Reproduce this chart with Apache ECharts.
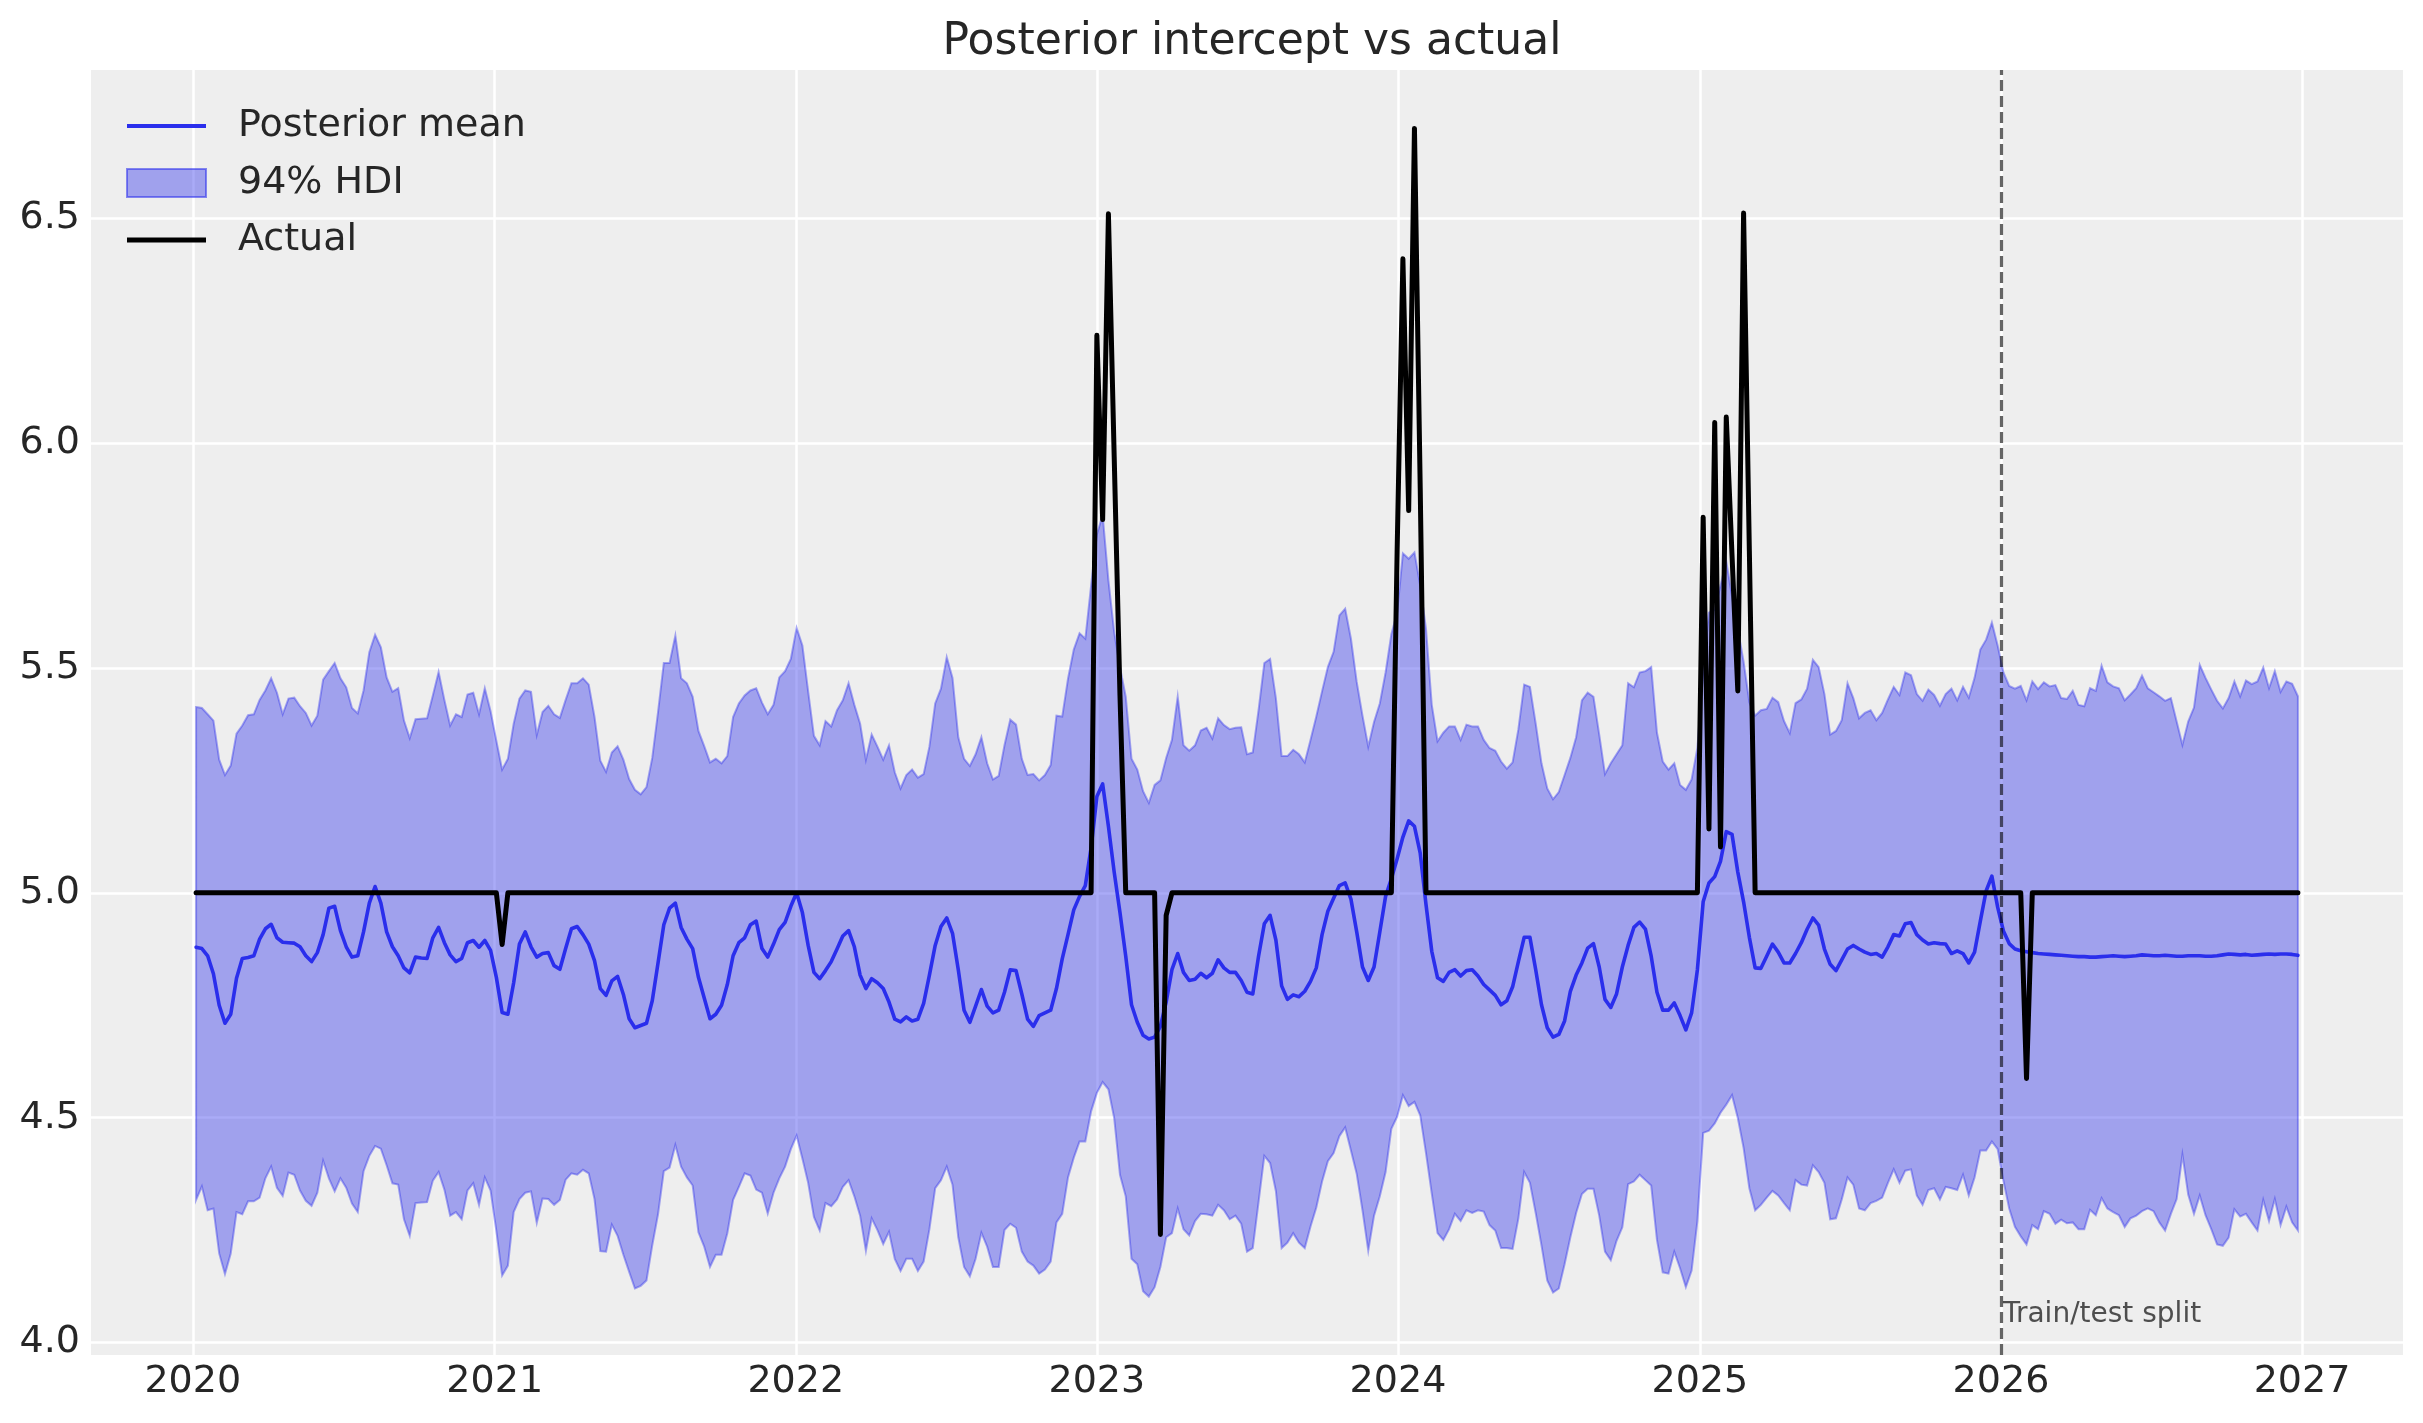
<!DOCTYPE html>
<html>
<head>
<meta charset="utf-8">
<title>Posterior intercept vs actual</title>
<script src="https://cdn.jsdelivr.net/npm/echarts@6/dist/echarts.min.js"></script>
<style>
  html, body { margin: 0; padding: 0; background: #ffffff; }
  #chart { width: 2423px; height: 1423px; }
</style>
</head>
<body>
<div id="chart"></div>
<script>
// weekly series (W-SUN), first week 2020-01-05
const firstWeek = Date.UTC(2020, 0, 5);
const splitDate = Date.UTC(2026, 0, 1);
const xTickYears = [2020, 2021, 2022, 2023, 2024, 2025, 2026, 2027];
const yTicks = [4.0, 4.5, 5.0, 5.5, 6.0, 6.5];

const posteriorMean = [
  4.879, 4.876, 4.86, 4.82, 4.75, 4.71, 4.73, 4.81, 4.854, 4.856,
  4.86, 4.897, 4.92, 4.93, 4.90, 4.89, 4.889, 4.888, 4.88, 4.86,
  4.847, 4.867, 4.907, 4.966, 4.97, 4.916, 4.88, 4.857, 4.86, 4.913,
  4.977, 5.014, 4.977, 4.913, 4.88, 4.86, 4.833, 4.822, 4.857, 4.855,
  4.854, 4.90, 4.923, 4.889, 4.862, 4.847, 4.854, 4.889, 4.894, 4.879,
  4.894, 4.872, 4.812, 4.734, 4.73, 4.80, 4.886, 4.913, 4.88, 4.857,
  4.865, 4.867, 4.838, 4.83, 4.876, 4.92, 4.925, 4.907, 4.886, 4.849,
  4.787, 4.772, 4.804, 4.814, 4.774, 4.72, 4.70, 4.705, 4.71, 4.76,
  4.844, 4.929, 4.966, 4.977, 4.923, 4.897, 4.876, 4.812, 4.766, 4.72,
  4.73, 4.75, 4.796, 4.86, 4.889, 4.90, 4.929, 4.937, 4.876, 4.857,
  4.886, 4.918, 4.934, 4.97, 5.0, 4.956, 4.883, 4.823, 4.809, 4.827,
  4.847, 4.875, 4.904, 4.916, 4.88, 4.817, 4.787, 4.809, 4.80, 4.787,
  4.757, 4.719, 4.713, 4.724, 4.715, 4.719, 4.754, 4.817, 4.883, 4.925,
  4.944, 4.91, 4.829, 4.739, 4.712, 4.748, 4.785, 4.748, 4.733, 4.739,
  4.779, 4.829, 4.827, 4.775, 4.719, 4.703, 4.727, 4.733, 4.739, 4.787,
  4.853, 4.907, 4.962, 4.992, 5.016, 5.10, 5.214, 5.242, 5.148, 5.046,
  4.956, 4.859, 4.751, 4.712, 4.683, 4.675, 4.679, 4.703, 4.757, 4.829,
  4.865, 4.823, 4.805, 4.808, 4.821, 4.811, 4.821, 4.851, 4.833, 4.823,
  4.823, 4.805, 4.779, 4.775, 4.859, 4.931, 4.95, 4.895, 4.793, 4.763,
  4.773, 4.769, 4.781, 4.803, 4.833, 4.907, 4.959, 4.988, 5.016, 5.022,
  4.986, 4.913, 4.835, 4.805, 4.835, 4.913, 4.992, 5.031, 5.076, 5.124,
  5.16, 5.148, 5.088, 4.974, 4.87, 4.811, 4.803, 4.823, 4.829, 4.815,
  4.827, 4.829, 4.815, 4.796, 4.784, 4.772, 4.751, 4.76, 4.791, 4.847,
  4.901, 4.901, 4.829, 4.751, 4.70, 4.679, 4.685, 4.715, 4.781, 4.817,
  4.844, 4.877, 4.887, 4.835, 4.763, 4.745, 4.775, 4.835, 4.883, 4.923,
  4.935, 4.919, 4.859, 4.779, 4.739, 4.739, 4.755, 4.727, 4.695, 4.733,
  4.829, 4.98, 5.022, 5.036, 5.07, 5.136, 5.13, 5.046, 4.98, 4.901,
  4.833, 4.832, 4.859, 4.886, 4.868, 4.844, 4.844, 4.865, 4.889, 4.919,
  4.944, 4.928, 4.875, 4.841, 4.827, 4.851, 4.875, 4.883, 4.875, 4.868,
  4.863, 4.865, 4.857, 4.88, 4.907, 4.904, 4.931, 4.934, 4.907, 4.895,
  4.886, 4.889, 4.887, 4.886, 4.865, 4.871, 4.865, 4.844, 4.868, 4.937,
  5.004, 5.037, 4.968, 4.915, 4.887, 4.875, 4.871, 4.869, 4.867, 4.865,
  4.864, 4.863, 4.862, 4.861, 4.860, 4.859, 4.858, 4.858, 4.857, 4.857,
  4.858, 4.859, 4.860, 4.859, 4.858, 4.859, 4.860, 4.862, 4.861, 4.860,
  4.860, 4.861, 4.860, 4.859, 4.859, 4.860, 4.860, 4.860, 4.859, 4.859,
  4.860, 4.862, 4.864, 4.863, 4.862, 4.863, 4.861, 4.862, 4.863, 4.864,
  4.863, 4.864, 4.864, 4.863, 4.861
];

const hdiHigh = [
  5.413, 5.411, 5.397, 5.383, 5.296, 5.262, 5.283, 5.354, 5.372, 5.395,
  5.397, 5.429, 5.45, 5.477, 5.445, 5.397, 5.432, 5.434, 5.415, 5.40,
  5.372, 5.394, 5.474, 5.493, 5.511, 5.477, 5.457, 5.411, 5.399, 5.45,
  5.535, 5.574, 5.546, 5.479, 5.447, 5.455, 5.383, 5.344, 5.386, 5.387,
  5.388, 5.439, 5.491, 5.429, 5.372, 5.397, 5.391, 5.441, 5.445, 5.397,
  5.455, 5.404, 5.338, 5.274, 5.298, 5.376, 5.432, 5.45, 5.447, 5.351,
  5.402, 5.416, 5.397, 5.389, 5.429, 5.466, 5.466, 5.477, 5.463, 5.391,
  5.294, 5.269, 5.312, 5.326, 5.296, 5.253, 5.229, 5.219, 5.235, 5.30,
  5.402, 5.511, 5.511, 5.572, 5.477, 5.466, 5.436, 5.36, 5.326, 5.29,
  5.298, 5.288, 5.304, 5.391, 5.421, 5.439, 5.45, 5.455, 5.423, 5.397,
  5.418, 5.479, 5.493, 5.52, 5.589, 5.55, 5.448, 5.349, 5.328, 5.382,
  5.37, 5.406, 5.428, 5.466, 5.418, 5.376, 5.296, 5.352, 5.325, 5.296,
  5.328, 5.268, 5.232, 5.262, 5.274, 5.256, 5.264, 5.325, 5.421, 5.454,
  5.524, 5.478, 5.346, 5.298, 5.282, 5.308, 5.346, 5.288, 5.252, 5.26,
  5.328, 5.385, 5.374, 5.298, 5.262, 5.264, 5.25, 5.262, 5.284, 5.394,
  5.392, 5.476, 5.541, 5.577, 5.565, 5.683, 5.797, 5.84, 5.695, 5.58,
  5.502, 5.436, 5.298, 5.274, 5.226, 5.20, 5.24, 5.25, 5.30, 5.34,
  5.436, 5.328, 5.316, 5.328, 5.361, 5.367, 5.343, 5.388, 5.373, 5.364,
  5.367, 5.368, 5.308, 5.312, 5.406, 5.511, 5.52, 5.433, 5.304, 5.304,
  5.318, 5.308, 5.29, 5.34, 5.392, 5.448, 5.502, 5.536, 5.617, 5.632,
  5.565, 5.469, 5.394, 5.325, 5.38, 5.421, 5.49, 5.575, 5.623, 5.755,
  5.743, 5.757, 5.683, 5.587, 5.418, 5.337, 5.356, 5.37, 5.37, 5.34,
  5.374, 5.37, 5.37, 5.34, 5.322, 5.316, 5.292, 5.276, 5.29, 5.364,
  5.463, 5.458, 5.376, 5.288, 5.232, 5.208, 5.224, 5.262, 5.30, 5.346,
  5.428, 5.445, 5.436, 5.352, 5.264, 5.288, 5.308, 5.328, 5.466, 5.457,
  5.49, 5.493, 5.502, 5.356, 5.292, 5.274, 5.288, 5.24, 5.229, 5.252,
  5.322, 5.49, 5.623, 5.63, 5.683, 5.737, 5.659, 5.587, 5.514, 5.424,
  5.394, 5.406, 5.409, 5.434, 5.424, 5.382, 5.355, 5.422, 5.43, 5.454,
  5.518, 5.502, 5.442, 5.352, 5.36, 5.384, 5.466, 5.433, 5.388, 5.40,
  5.406, 5.384, 5.40, 5.43, 5.458, 5.44, 5.49, 5.484, 5.442, 5.427,
  5.452, 5.44, 5.416, 5.442, 5.454, 5.428, 5.458, 5.434, 5.478, 5.541,
  5.563, 5.601, 5.55, 5.49, 5.46, 5.454, 5.46, 5.428, 5.47, 5.453,
  5.468, 5.459, 5.462, 5.433, 5.431, 5.449, 5.418, 5.415, 5.455, 5.449,
  5.505, 5.468, 5.459, 5.455, 5.428, 5.441, 5.455, 5.483, 5.455, 5.446,
  5.437, 5.427, 5.433, 5.381, 5.329, 5.381, 5.412, 5.507, 5.478, 5.452,
  5.427, 5.41, 5.433, 5.47, 5.437, 5.472, 5.464, 5.47, 5.501, 5.455,
  5.493, 5.447, 5.47, 5.465, 5.437
];

const hdiLow = [
  4.317, 4.347, 4.294, 4.298, 4.198, 4.152, 4.198, 4.29, 4.285, 4.314,
  4.314, 4.322, 4.365, 4.391, 4.344, 4.326, 4.378, 4.373, 4.338, 4.315,
  4.304, 4.333, 4.404, 4.365, 4.336, 4.365, 4.344, 4.309, 4.29, 4.381,
  4.415, 4.437, 4.431, 4.394, 4.354, 4.351, 4.274, 4.237, 4.31, 4.311,
  4.312, 4.36, 4.379, 4.34, 4.282, 4.29, 4.274, 4.338, 4.354, 4.306,
  4.367, 4.338, 4.248, 4.149, 4.171, 4.29, 4.319, 4.333, 4.336, 4.266,
  4.32, 4.319, 4.306, 4.317, 4.362, 4.376, 4.373, 4.384, 4.376, 4.319,
  4.203, 4.202, 4.262, 4.237, 4.195, 4.157, 4.12, 4.126, 4.138, 4.216,
  4.285, 4.381, 4.389, 4.439, 4.391, 4.367, 4.349, 4.245, 4.213, 4.168,
  4.195, 4.195, 4.243, 4.317, 4.346, 4.376, 4.371, 4.34, 4.333, 4.287,
  4.333, 4.365, 4.391, 4.43, 4.46, 4.409, 4.355, 4.279, 4.249, 4.31,
  4.303, 4.318, 4.346, 4.361, 4.325, 4.282, 4.204, 4.276, 4.25, 4.219,
  4.246, 4.186, 4.159, 4.186, 4.186, 4.159, 4.18, 4.252, 4.343, 4.361,
  4.391, 4.351, 4.234, 4.168, 4.147, 4.186, 4.244, 4.213, 4.168, 4.168,
  4.25, 4.264, 4.255, 4.202, 4.18, 4.171, 4.153, 4.162, 4.18, 4.267,
  4.286, 4.367, 4.411, 4.447, 4.447, 4.514, 4.555, 4.579, 4.563, 4.499,
  4.373, 4.325, 4.186, 4.174, 4.114, 4.102, 4.123, 4.168, 4.234, 4.243,
  4.298, 4.252, 4.238, 4.27, 4.286, 4.285, 4.282, 4.306, 4.294, 4.274,
  4.282, 4.264, 4.202, 4.21, 4.312, 4.415, 4.399, 4.337, 4.21, 4.222,
  4.243, 4.222, 4.21, 4.258, 4.30, 4.358, 4.403, 4.421, 4.459, 4.478,
  4.427, 4.375, 4.294, 4.204, 4.282, 4.325, 4.379, 4.475, 4.502, 4.55,
  4.526, 4.535, 4.505, 4.421, 4.331, 4.243, 4.228, 4.252, 4.286, 4.27,
  4.294, 4.288, 4.294, 4.291, 4.261, 4.249, 4.21, 4.21, 4.208, 4.276,
  4.379, 4.355, 4.288, 4.216, 4.138, 4.111, 4.12, 4.174, 4.234, 4.288,
  4.33, 4.342, 4.342, 4.282, 4.202, 4.183, 4.226, 4.256, 4.352, 4.358,
  4.373, 4.361, 4.349, 4.228, 4.156, 4.153, 4.202, 4.165, 4.123, 4.16,
  4.27, 4.466, 4.471, 4.487, 4.511, 4.529, 4.55, 4.499, 4.433, 4.343,
  4.294, 4.306, 4.322, 4.337, 4.327, 4.31, 4.294, 4.361, 4.351, 4.349,
  4.394, 4.379, 4.355, 4.274, 4.276, 4.318, 4.367, 4.351, 4.298, 4.294,
  4.31, 4.315, 4.322, 4.355, 4.385, 4.355, 4.382, 4.385, 4.327, 4.306,
  4.339, 4.343, 4.318, 4.346, 4.343, 4.339, 4.373, 4.327, 4.367, 4.427,
  4.427, 4.447, 4.43, 4.36, 4.298, 4.257, 4.236, 4.218, 4.261, 4.252,
  4.292, 4.286, 4.264, 4.273, 4.265, 4.267, 4.252, 4.252, 4.295, 4.283,
  4.321, 4.298, 4.29, 4.283, 4.257, 4.276, 4.282, 4.292, 4.298, 4.292,
  4.267, 4.249, 4.286, 4.319, 4.418, 4.329, 4.286, 4.327, 4.283, 4.252,
  4.218, 4.215, 4.233, 4.296, 4.28, 4.286, 4.267, 4.249, 4.317, 4.27,
  4.319, 4.261, 4.302, 4.267, 4.249
];

const actualValues = [
  5, 5, 5, 5, 5, 5, 5, 5, 5, 5,
  5, 5, 5, 5, 5, 5, 5, 5, 5, 5,
  5, 5, 5, 5, 5, 5, 5, 5, 5, 5,
  5, 5, 5, 5, 5, 5, 5, 5, 5, 5,
  5, 5, 5, 5, 5, 5, 5, 5, 5, 5,
  5, 5, 5, 4.885, 5, 5, 5, 5, 5, 5,
  5, 5, 5, 5, 5, 5, 5, 5, 5, 5,
  5, 5, 5, 5, 5, 5, 5, 5, 5, 5,
  5, 5, 5, 5, 5, 5, 5, 5, 5, 5,
  5, 5, 5, 5, 5, 5, 5, 5, 5, 5,
  5, 5, 5, 5, 5, 5, 5, 5, 5, 5,
  5, 5, 5, 5, 5, 5, 5, 5, 5, 5,
  5, 5, 5, 5, 5, 5, 5, 5, 5, 5,
  5, 5, 5, 5, 5, 5, 5, 5, 5, 5,
  5, 5, 5, 5, 5, 5, 5, 5, 5, 5,
  5, 5, 5, 5, 5, 5, 6.24, 5.83, 6.51, 5.97,
  5.44, 5, 5, 5, 5, 5, 5, 4.24, 4.95, 5,
  5, 5, 5, 5, 5, 5, 5, 5, 5, 5,
  5, 5, 5, 5, 5, 5, 5, 5, 5, 5,
  5, 5, 5, 5, 5, 5, 5, 5, 5, 5,
  5, 5, 5, 5, 5, 5, 5, 5, 5.76, 6.41,
  5.85, 6.70, 5.9, 5, 5, 5, 5, 5, 5, 5,
  5, 5, 5, 5, 5, 5, 5, 5, 5, 5,
  5, 5, 5, 5, 5, 5, 5, 5, 5, 5,
  5, 5, 5, 5, 5, 5, 5, 5, 5, 5,
  5, 5, 5, 5, 5, 5, 5, 5, 5, 5,
  5, 5.835, 5.142, 6.046, 5.102, 6.058, 5.75, 5.449, 6.512, 5.76,
  5, 5, 5, 5, 5, 5, 5, 5, 5, 5,
  5, 5, 5, 5, 5, 5, 5, 5, 5, 5,
  5, 5, 5, 5, 5, 5, 5, 5, 5, 5,
  5, 5, 5, 5, 5, 5, 5, 5, 5, 5,
  5, 5, 5, 5, 5, 5, 5, 4.587, 5, 5,
  5, 5, 5, 5, 5, 5, 5, 5, 5, 5,
  5, 5, 5, 5, 5, 5, 5, 5, 5, 5,
  5, 5, 5, 5, 5, 5, 5, 5, 5, 5,
  5, 5, 5, 5, 5, 5, 5, 5, 5, 5,
  5, 5, 5, 5, 5
];

const WEEK_MS = 7 * 24 * 3600 * 1000;
const weeks = posteriorMean.map((_, i) => firstWeek + i * WEEK_MS);
const xTicks = xTickYears.map(y => Date.UTC(y, 0, 1));

// matplotlib-like 5% autoscale margins
const span = weeks[weeks.length - 1] - weeks[0];
const xMin = weeks[0] - 0.05 * span;
const xMax = weeks[weeks.length - 1] + 0.05 * span;
const yLo = Math.min(...hdiLow), yHi = Math.max(...actualValues);
const yMin = yLo - 0.05 * (yHi - yLo);
const yMax = yHi + 0.05 * (yHi - yLo);

const FONT = 'DejaVu Sans';
const TEXT = '#262626';
const BLUE = '#2a2eec';
const BAND = 'rgba(42,46,236,0.4)';

const chart = echarts.init(document.getElementById('chart'), null, { renderer: 'canvas' });

const option = {
  animation: false,
  backgroundColor: '#ffffff',
  title: {
    text: 'Posterior intercept vs actual',
    left: 1247,
    top: 16,
    textAlign: 'center',
    textStyle: { fontFamily: FONT, fontSize: 44, fontWeight: 'normal', color: TEXT }
  },
  legend: {
    orient: 'vertical',
    left: 126,
    top: 107,
    padding: 0,
    itemWidth: 79,
    itemHeight: 28,
    itemGap: 19,
    symbolKeepAspect: true,
    textStyle: { fontFamily: FONT, fontSize: 38, color: TEXT, lineHeight: 28, padding: [0, 0, 0, 27] },
    data: [
      { name: 'Posterior mean', icon: 'path://M0,0H79V4H0Z', itemStyle: { color: BLUE } },
      { name: '94% HDI', icon: 'rect', itemStyle: { color: BAND, borderColor: 'rgba(42,46,236,0.55)', borderWidth: 2 } },
      { name: 'Actual', icon: 'path://M0,0H79V5H0Z', itemStyle: { color: '#000000' } }
    ]
  },
  grid: {
    left: 91, right: 20, top: 70, bottom: 68,
    show: true, backgroundColor: '#eeeeee', borderWidth: 0
  },
  xAxis: {
    type: 'value',
    min: xMin,
    max: xMax,
    axisLine: { show: false },
    axisTick: { show: false, customValues: xTicks },
    axisLabel: {
      customValues: xTicks,
      formatter: v => String(new Date(v).getUTCFullYear()),
      fontFamily: FONT, fontSize: 38, color: TEXT, margin: 8
    },
    splitLine: { show: true, lineStyle: { color: '#ffffff', width: 2.5 } }
  },
  yAxis: {
    type: 'value',
    min: yMin,
    max: yMax,
    axisLine: { show: false },
    axisTick: { show: false, customValues: yTicks },
    axisLabel: {
      customValues: yTicks,
      formatter: v => v.toFixed(1),
      fontFamily: FONT, fontSize: 38, color: TEXT, margin: 11
    },
    splitLine: { show: true, lineStyle: { color: '#ffffff', width: 2.5 } }
  },
  series: [
    {
      name: '94% HDI',
      type: 'custom',
      z: 2,
      silent: true,
      itemStyle: { color: BAND },
      encode: { x: 0, y: [1, 2] },
      data: weeks.map((t, i) => [t, hdiLow[i], hdiHigh[i]]),
      renderItem: function (params, api) {
        if (params.dataIndex !== 0) return null;
        const pts = [];
        for (let i = 0; i < weeks.length; i++) pts.push(api.coord([weeks[i], hdiHigh[i]]));
        for (let i = weeks.length - 1; i >= 0; i--) pts.push(api.coord([weeks[i], hdiLow[i]]));
        return {
          type: 'polygon',
          shape: { points: pts },
          style: { fill: BAND, stroke: BAND, lineWidth: 2 }
        };
      }
    },
    {
      name: 'Posterior mean',
      type: 'line',
      z: 3,
      symbol: 'none',
      silent: true,
      itemStyle: { color: BLUE },
      lineStyle: { color: BLUE, width: 3.6, join: 'round', cap: 'round' },
      data: weeks.map((t, i) => [t, posteriorMean[i]])
    },
    {
      name: 'Actual',
      type: 'line',
      z: 4,
      symbol: 'none',
      silent: true,
      itemStyle: { color: '#000000' },
      lineStyle: { color: '#000000', width: 5, join: 'round', cap: 'round' },
      data: weeks.map((t, i) => [t, actualValues[i]]),
      markLine: {
        silent: true,
        symbol: 'none',
        label: { show: false },
        lineStyle: { type: [11, 5], color: 'rgba(0,0,0,0.6)', width: 3.2 },
        data: [{ xAxis: splitDate }]
      }
    },
    {
      name: 'split label',
      type: 'scatter',
      z: 5,
      silent: true,
      symbolSize: 0,
      data: [[splitDate, 4.062]],
      label: {
        show: true,
        position: 'right',
        distance: 2,
        formatter: 'Train/test split',
        fontFamily: FONT,
        fontSize: 28,
        color: TEXT
      }
    }
  ]
};

chart.setOption(option);
</script>
</body>
</html>
